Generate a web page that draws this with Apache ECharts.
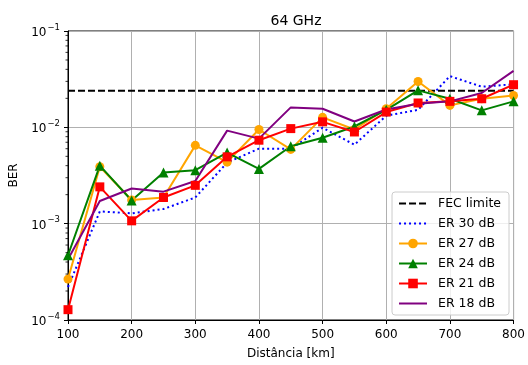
<!DOCTYPE html>
<html><head><meta charset="utf-8">
<script src="https://cdn.jsdelivr.net/npm/echarts@6/dist/echarts.min.js"></script>
<style>html,body{margin:0;padding:0;background:#fff}#c{width:528px;height:365px}</style>
</head><body><div id="c"></div>
<script>
const distances = [100,150,200,250,300,350,400,450,500,550,600,650,700,750,800];
const fecLimit = 0.024;
const er30 = [2.2e-4,1.34e-3,1.28e-3,1.42e-3,1.87e-3,4.3e-3,6.0e-3,6.0e-3,9.9e-3,6.6e-3,1.32e-2,1.52e-2,3.4e-2,2.64e-2,2.8e-2];
const er27 = [2.66e-4,3.9e-3,1.76e-3,1.87e-3,6.5e-3,4.35e-3,9.5e-3,5.9e-3,1.27e-2,9.5e-3,1.56e-2,2.99e-2,1.69e-2,1.98e-2,2.14e-2];
const er24 = [4.7e-4,4.0e-3,1.74e-3,3.39e-3,3.59e-3,5.47e-3,3.7e-3,6.36e-3,7.8e-3,1.02e-2,1.52e-2,2.42e-2,1.98e-2,1.5e-2,1.86e-2];
const er21 = [1.28e-4,2.41e-3,1.07e-3,1.87e-3,2.5e-3,4.94e-3,7.35e-3,9.7e-3,1.14e-2,8.95e-3,1.44e-2,1.79e-2,1.86e-2,1.98e-2,2.77e-2];
const er18 = [4.28e-4,1.72e-3,2.32e-3,2.15e-3,2.77e-3,9.25e-3,7.64e-3,1.61e-2,1.56e-2,1.15e-2,1.53e-2,1.76e-2,1.86e-2,2.27e-2,3.86e-2];
const yTickExponents = {'0.0001':'−4','0.001':'−3','0.01':'−2','0.1':'−1'};
const minorTicks = [];
[1e-4,1e-3,1e-2].forEach(d=>{for(let k=2;k<=9;k++) minorTicks.push(+(d*k).toPrecision(3));});

const font = 'DejaVu Sans';
const pair = arr => distances.map((d,i)=>[d,arr[i]]);
const noMarker = {opacity:0};
const chart = echarts.init(document.getElementById('c'));
chart.setOption({
  animation:false,
  textStyle:{fontFamily:font},
  title:{text:'64 GHz', left:291, top:9, textAlign:'center',
    textStyle:{fontFamily:font,fontSize:14,fontWeight:'normal',color:'#000'}},
  grid:{left:68,right:13,top:31,bottom:44,show:true,borderColor:'#000',borderWidth:1,backgroundColor:'transparent'},
  legend:{
    data:[{name:'FEC limite',itemStyle:noMarker},{name:'ER 30 dB',itemStyle:noMarker},'ER 27 dB','ER 24 dB','ER 21 dB',{name:'ER 18 dB',itemStyle:noMarker}],
    orient:'vertical', right:19, bottom:50,
    itemWidth:28, itemHeight:12, itemGap:7,
    padding:[5,8,5,6],
    backgroundColor:'rgba(255,255,255,0.8)', borderColor:'#cccccc', borderWidth:1, borderRadius:3,
    textStyle:{fontFamily:font,fontSize:12.5,color:'#000',padding:[0,0,0,6]}
  },
  xAxis:{type:'value',min:100,max:800,interval:100,
    name:'Distância [km]', nameLocation:'middle', nameGap:28,
    nameTextStyle:{fontFamily:font,fontSize:12,color:'#000'},
    axisLine:{show:true,onZero:false,lineStyle:{color:'#000',width:1}},
    axisTick:{show:true,length:4,lineStyle:{color:'#000'}},
    axisLabel:{fontFamily:font,fontSize:12,color:'#000',margin:9},
    splitLine:{show:true,lineStyle:{color:'#b0b0b0',width:1}}
  },
  yAxis:{type:'log',logBase:10,min:1e-4,max:1e-1,
    name:'BER', nameLocation:'middle', nameGap:46,
    nameTextStyle:{fontFamily:font,fontSize:12,color:'#000'},
    axisLine:{show:true,lineStyle:{color:'#000',width:1}},
    axisTick:{show:true,length:4,lineStyle:{color:'#000'}},
    axisLabel:{fontFamily:font,color:'#000',margin:8,
      formatter:v=>{const k=String(+v.toPrecision(3));const e=yTickExponents[k];return e?'{b|10}{s|'+e+'}':'';},
      rich:{b:{fontFamily:font,fontSize:12,color:'#000',lineHeight:16,verticalAlign:'bottom'},
            s:{fontFamily:font,fontSize:8.5,color:'#000',verticalAlign:'top',lineHeight:10,padding:[0,0,0,1]}}},
    splitLine:{show:true,lineStyle:{color:'#b0b0b0',width:1}}
  },
  series:[
    {name:'minor', type:'custom', silent:true, clip:false, z:5,
      data:minorTicks.map(v=>[100,v]),
      renderItem:(params,api)=>{const p=api.coord([api.value(0),api.value(1)]);
        return {type:'line',shape:{x1:p[0]-2.5,y1:p[1],x2:p[0],y2:p[1]},style:{stroke:'#000',lineWidth:0.8}};}},
    {name:'FEC limite', type:'line', data:[[100,fecLimit],[800,fecLimit]], showSymbol:false, symbol:'none',
      lineStyle:{color:'#000',width:2,type:[7,3]}, itemStyle:{color:'#000'}},
    {name:'ER 30 dB', type:'line', data:pair(er30), symbol:'none',
      lineStyle:{color:'#0000ff',width:2,type:[2,3]}, itemStyle:{color:'#0000ff'}},
    {name:'ER 27 dB', type:'line', data:pair(er27), symbol:'circle', symbolSize:9,
      lineStyle:{color:'#ffa500',width:2}, itemStyle:{color:'#ffa500'}},
    {name:'ER 24 dB', type:'line', data:pair(er24), symbol:'triangle', symbolSize:10,
      lineStyle:{color:'#008000',width:2}, itemStyle:{color:'#008000'}},
    {name:'ER 21 dB', type:'line', data:pair(er21), symbol:'rect', symbolSize:9,
      lineStyle:{color:'#ff0000',width:2}, itemStyle:{color:'#ff0000'}},
    {name:'ER 18 dB', type:'line', data:pair(er18), symbol:'none',
      lineStyle:{color:'#800080',width:2}, itemStyle:{color:'#800080'}}
  ]
});
</script></body></html>
